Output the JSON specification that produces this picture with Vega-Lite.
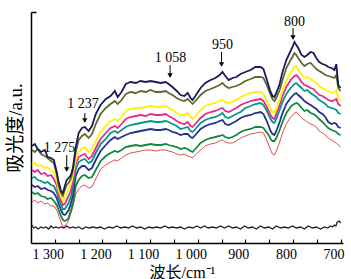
{
"$schema": "https://vega.github.io/schema/vega-lite/v6.json",
"autosize": "none",
"padding": {"left": 31, "top": 12, "right": 8, "bottom": 36},
"width": 312,
"height": 231,
"background": "white",
"config": {"view": {"stroke": null}, "axis": {"grid": false, "domainColor": "#000", "domainWidth": 1.5, "tickColor": "#000", "tickWidth": 1.2, "labelFont": "Liberation Serif", "labelFontSize": 14, "labelColor": "#000", "titleFont": "Liberation Serif, Noto Sans CJK SC", "titleFontWeight": "normal", "titleColor": "#000", "titleFontSize": 16}},
"datasets": {
"N": [{"w":1348,"v":97},{"w":1342,"v":99},{"w":1336,"v":94},{"w":1329,"v":91},{"w":1321,"v":93},{"w":1315,"v":86},{"w":1308,"v":85},{"w":1302,"v":83},{"w":1296,"v":71},{"w":1292,"v":61},{"w":1287,"v":52},{"w":1283,"v":50},{"w":1279,"v":57},{"w":1275,"v":63},{"w":1271,"v":65},{"w":1266,"v":68},{"w":1262,"v":75},{"w":1256,"v":96},{"w":1250,"v":110},{"w":1243,"v":115},{"w":1237,"v":116},{"w":1229,"v":112},{"w":1222,"v":117},{"w":1214,"v":129},{"w":1204,"v":138},{"w":1193,"v":144},{"w":1183,"v":147},{"w":1174,"v":152},{"w":1168,"v":146},{"w":1160,"v":151},{"w":1151,"v":159},{"w":1141,"v":161},{"w":1130,"v":160},{"w":1120,"v":162},{"w":1109,"v":161},{"w":1099,"v":162},{"w":1088,"v":161},{"w":1078,"v":160},{"w":1067,"v":161},{"w":1061,"v":159},{"w":1053,"v":156},{"w":1044,"v":152},{"w":1036,"v":148},{"w":1028,"v":147},{"w":1021,"v":150},{"w":1015,"v":145},{"w":1011,"v":143},{"w":1005,"v":147},{"w":994,"v":155},{"w":984,"v":160},{"w":973,"v":163},{"w":963,"v":165},{"w":954,"v":168},{"w":948,"v":171},{"w":942,"v":167},{"w":935,"v":163},{"w":927,"v":165},{"w":919,"v":166},{"w":910,"v":169},{"w":900,"v":171},{"w":889,"v":173},{"w":879,"v":176},{"w":868,"v":176},{"w":862,"v":174},{"w":856,"v":165},{"w":851,"v":157},{"w":847,"v":151},{"w":843,"v":147},{"w":839,"v":146},{"w":835,"v":150},{"w":828,"v":159},{"w":822,"v":171},{"w":814,"v":183},{"w":805,"v":192},{"w":801,"v":196},{"w":797,"v":201},{"w":793,"v":198},{"w":789,"v":195},{"w":782,"v":188},{"w":776,"v":186},{"w":770,"v":188},{"w":763,"v":191},{"w":757,"v":190},{"w":751,"v":185},{"w":745,"v":181},{"w":738,"v":179},{"w":732,"v":178},{"w":726,"v":176},{"w":719,"v":175},{"w":713,"v":173},{"w":709,"v":179},{"w":705,"v":158},{"w":700,"v":155}],
"O": [{"w":1348,"v":93},{"w":1342,"v":91},{"w":1336,"v":94},{"w":1329,"v":89},{"w":1321,"v":87},{"w":1315,"v":85},{"w":1308,"v":82},{"w":1302,"v":80},{"w":1296,"v":69},{"w":1292,"v":58},{"w":1287,"v":50},{"w":1283,"v":47},{"w":1279,"v":53},{"w":1275,"v":58},{"w":1271,"v":60},{"w":1266,"v":65},{"w":1262,"v":73},{"w":1256,"v":91},{"w":1250,"v":103},{"w":1243,"v":107},{"w":1237,"v":109},{"w":1229,"v":105},{"w":1222,"v":109},{"w":1214,"v":119},{"w":1204,"v":129},{"w":1193,"v":135},{"w":1183,"v":139},{"w":1174,"v":142},{"w":1168,"v":139},{"w":1160,"v":143},{"w":1151,"v":149},{"w":1141,"v":151},{"w":1130,"v":150},{"w":1120,"v":152},{"w":1109,"v":151},{"w":1099,"v":153},{"w":1088,"v":151},{"w":1078,"v":151},{"w":1067,"v":152},{"w":1061,"v":150},{"w":1053,"v":148},{"w":1044,"v":145},{"w":1036,"v":143},{"w":1028,"v":142},{"w":1021,"v":144},{"w":1015,"v":141},{"w":1011,"v":139},{"w":1005,"v":142},{"w":994,"v":148},{"w":984,"v":152},{"w":973,"v":154},{"w":963,"v":156},{"w":954,"v":158},{"w":948,"v":160},{"w":942,"v":157},{"w":935,"v":155},{"w":927,"v":156},{"w":919,"v":157},{"w":910,"v":159},{"w":900,"v":162},{"w":889,"v":164},{"w":879,"v":166},{"w":868,"v":166},{"w":862,"v":165},{"w":856,"v":159},{"w":851,"v":153},{"w":847,"v":148},{"w":843,"v":144},{"w":839,"v":142},{"w":835,"v":145},{"w":828,"v":153},{"w":822,"v":163},{"w":814,"v":175},{"w":805,"v":183},{"w":801,"v":186},{"w":797,"v":190},{"w":793,"v":188},{"w":789,"v":185},{"w":782,"v":180},{"w":776,"v":177},{"w":770,"v":179},{"w":763,"v":180},{"w":757,"v":177},{"w":751,"v":174},{"w":745,"v":172},{"w":738,"v":170},{"w":732,"v":168},{"w":726,"v":167},{"w":719,"v":166},{"w":713,"v":165},{"w":709,"v":168},{"w":705,"v":155},{"w":700,"v":152}],
"Y": [{"w":1348,"v":78},{"w":1342,"v":80},{"w":1336,"v":77},{"w":1329,"v":78},{"w":1321,"v":75},{"w":1315,"v":76},{"w":1308,"v":72},{"w":1302,"v":71},{"w":1296,"v":63},{"w":1292,"v":53},{"w":1287,"v":46},{"w":1283,"v":42},{"w":1279,"v":45},{"w":1275,"v":50},{"w":1271,"v":54},{"w":1266,"v":59},{"w":1262,"v":68},{"w":1256,"v":83},{"w":1250,"v":91},{"w":1243,"v":94},{"w":1237,"v":96},{"w":1229,"v":91},{"w":1222,"v":94},{"w":1214,"v":102},{"w":1204,"v":111},{"w":1193,"v":117},{"w":1183,"v":122},{"w":1174,"v":124},{"w":1168,"v":122},{"w":1160,"v":126},{"w":1151,"v":132},{"w":1141,"v":134},{"w":1130,"v":135},{"w":1120,"v":135},{"w":1109,"v":136},{"w":1099,"v":137},{"w":1088,"v":136},{"w":1078,"v":136},{"w":1067,"v":137},{"w":1061,"v":135},{"w":1053,"v":133},{"w":1044,"v":130},{"w":1036,"v":128},{"w":1028,"v":128},{"w":1021,"v":130},{"w":1015,"v":126},{"w":1011,"v":124},{"w":1005,"v":127},{"w":994,"v":133},{"w":984,"v":137},{"w":973,"v":139},{"w":963,"v":140},{"w":954,"v":142},{"w":948,"v":143},{"w":942,"v":141},{"w":935,"v":140},{"w":927,"v":141},{"w":919,"v":143},{"w":910,"v":146},{"w":900,"v":148},{"w":889,"v":150},{"w":879,"v":151},{"w":868,"v":151},{"w":862,"v":149},{"w":856,"v":143},{"w":851,"v":138},{"w":847,"v":134},{"w":843,"v":131},{"w":839,"v":131},{"w":835,"v":134},{"w":828,"v":143},{"w":822,"v":153},{"w":814,"v":163},{"w":805,"v":170},{"w":801,"v":173},{"w":797,"v":176},{"w":793,"v":177},{"w":789,"v":173},{"w":782,"v":169},{"w":776,"v":165},{"w":770,"v":166},{"w":763,"v":164},{"w":757,"v":162},{"w":751,"v":160},{"w":745,"v":157},{"w":738,"v":155},{"w":732,"v":153},{"w":726,"v":152},{"w":719,"v":150},{"w":713,"v":151},{"w":709,"v":153},{"w":705,"v":145},{"w":700,"v":142}],
"M": [{"w":1348,"v":73},{"w":1342,"v":71},{"w":1336,"v":73},{"w":1329,"v":69},{"w":1321,"v":70},{"w":1315,"v":67},{"w":1308,"v":68},{"w":1302,"v":64},{"w":1296,"v":58},{"w":1292,"v":49},{"w":1287,"v":42},{"w":1283,"v":38},{"w":1279,"v":39},{"w":1275,"v":43},{"w":1271,"v":47},{"w":1266,"v":53},{"w":1262,"v":62},{"w":1256,"v":79},{"w":1250,"v":86},{"w":1243,"v":88},{"w":1237,"v":89},{"w":1229,"v":84},{"w":1222,"v":87},{"w":1214,"v":95},{"w":1204,"v":104},{"w":1193,"v":110},{"w":1183,"v":115},{"w":1174,"v":117},{"w":1168,"v":115},{"w":1160,"v":119},{"w":1151,"v":124},{"w":1141,"v":126},{"w":1130,"v":127},{"w":1120,"v":128},{"w":1109,"v":127},{"w":1099,"v":129},{"w":1088,"v":128},{"w":1078,"v":128},{"w":1067,"v":129},{"w":1061,"v":127},{"w":1053,"v":125},{"w":1044,"v":122},{"w":1036,"v":120},{"w":1028,"v":119},{"w":1021,"v":121},{"w":1015,"v":117},{"w":1011,"v":116},{"w":1005,"v":119},{"w":994,"v":125},{"w":984,"v":129},{"w":973,"v":131},{"w":963,"v":132},{"w":954,"v":134},{"w":948,"v":135},{"w":942,"v":132},{"w":935,"v":131},{"w":927,"v":133},{"w":919,"v":135},{"w":910,"v":138},{"w":900,"v":140},{"w":889,"v":142},{"w":879,"v":143},{"w":868,"v":144},{"w":862,"v":142},{"w":856,"v":137},{"w":851,"v":132},{"w":847,"v":128},{"w":843,"v":125},{"w":839,"v":124},{"w":835,"v":129},{"w":828,"v":138},{"w":822,"v":147},{"w":814,"v":156},{"w":805,"v":163},{"w":801,"v":165},{"w":797,"v":167},{"w":793,"v":168},{"w":789,"v":166},{"w":782,"v":161},{"w":776,"v":158},{"w":770,"v":157},{"w":763,"v":155},{"w":757,"v":154},{"w":751,"v":151},{"w":745,"v":148},{"w":738,"v":147},{"w":732,"v":145},{"w":726,"v":143},{"w":719,"v":142},{"w":713,"v":143},{"w":709,"v":144},{"w":705,"v":139},{"w":700,"v":137}],
"T": [{"w":1348,"v":65},{"w":1342,"v":66},{"w":1336,"v":63},{"w":1329,"v":62},{"w":1321,"v":60},{"w":1315,"v":61},{"w":1308,"v":58},{"w":1302,"v":57},{"w":1296,"v":51},{"w":1292,"v":44},{"w":1287,"v":38},{"w":1283,"v":34},{"w":1279,"v":34},{"w":1275,"v":37},{"w":1271,"v":40},{"w":1266,"v":47},{"w":1262,"v":56},{"w":1256,"v":74},{"w":1250,"v":81},{"w":1243,"v":83},{"w":1237,"v":84},{"w":1229,"v":80},{"w":1222,"v":82},{"w":1214,"v":90},{"w":1204,"v":99},{"w":1193,"v":104},{"w":1183,"v":110},{"w":1174,"v":112},{"w":1168,"v":110},{"w":1160,"v":113},{"w":1151,"v":116},{"w":1141,"v":118},{"w":1130,"v":119},{"w":1120,"v":120},{"w":1109,"v":121},{"w":1099,"v":122},{"w":1088,"v":121},{"w":1078,"v":121},{"w":1067,"v":122},{"w":1061,"v":121},{"w":1053,"v":119},{"w":1044,"v":117},{"w":1036,"v":114},{"w":1028,"v":115},{"w":1021,"v":116},{"w":1015,"v":112},{"w":1011,"v":111},{"w":1005,"v":114},{"w":994,"v":120},{"w":984,"v":123},{"w":973,"v":125},{"w":963,"v":126},{"w":954,"v":128},{"w":948,"v":130},{"w":942,"v":126},{"w":935,"v":125},{"w":927,"v":127},{"w":919,"v":129},{"w":910,"v":131},{"w":900,"v":135},{"w":889,"v":137},{"w":879,"v":139},{"w":868,"v":140},{"w":862,"v":138},{"w":856,"v":133},{"w":851,"v":128},{"w":847,"v":124},{"w":843,"v":121},{"w":839,"v":120},{"w":835,"v":124},{"w":828,"v":133},{"w":822,"v":141},{"w":814,"v":149},{"w":805,"v":155},{"w":801,"v":157},{"w":797,"v":159},{"w":793,"v":160},{"w":789,"v":158},{"w":782,"v":155},{"w":776,"v":152},{"w":770,"v":153},{"w":763,"v":150},{"w":757,"v":148},{"w":751,"v":146},{"w":745,"v":143},{"w":738,"v":141},{"w":732,"v":139},{"w":726,"v":136},{"w":719,"v":135},{"w":713,"v":134},{"w":709,"v":133},{"w":705,"v":130},{"w":700,"v":129}],
"B": [{"w":1348,"v":58},{"w":1342,"v":56},{"w":1336,"v":57},{"w":1329,"v":54},{"w":1321,"v":55},{"w":1315,"v":53},{"w":1308,"v":52},{"w":1302,"v":50},{"w":1296,"v":45},{"w":1292,"v":39},{"w":1287,"v":33},{"w":1283,"v":29},{"w":1279,"v":28},{"w":1275,"v":30},{"w":1271,"v":33},{"w":1266,"v":40},{"w":1262,"v":48},{"w":1256,"v":67},{"w":1250,"v":74},{"w":1243,"v":77},{"w":1237,"v":77},{"w":1229,"v":73},{"w":1222,"v":75},{"w":1214,"v":83},{"w":1204,"v":92},{"w":1193,"v":98},{"w":1183,"v":103},{"w":1174,"v":106},{"w":1168,"v":104},{"w":1160,"v":106},{"w":1151,"v":108},{"w":1141,"v":110},{"w":1130,"v":111},{"w":1120,"v":112},{"w":1109,"v":113},{"w":1099,"v":114},{"w":1088,"v":113},{"w":1078,"v":113},{"w":1067,"v":114},{"w":1061,"v":113},{"w":1053,"v":111},{"w":1044,"v":110},{"w":1036,"v":108},{"w":1028,"v":109},{"w":1021,"v":109},{"w":1015,"v":106},{"w":1011,"v":105},{"w":1005,"v":108},{"w":994,"v":114},{"w":984,"v":117},{"w":973,"v":119},{"w":963,"v":120},{"w":954,"v":122},{"w":948,"v":123},{"w":942,"v":119},{"w":935,"v":118},{"w":927,"v":120},{"w":919,"v":122},{"w":910,"v":125},{"w":900,"v":127},{"w":889,"v":128},{"w":879,"v":130},{"w":868,"v":131},{"w":862,"v":129},{"w":856,"v":123},{"w":851,"v":117},{"w":847,"v":112},{"w":843,"v":109},{"w":839,"v":108},{"w":835,"v":112},{"w":828,"v":121},{"w":822,"v":130},{"w":814,"v":139},{"w":805,"v":145},{"w":801,"v":147},{"w":797,"v":149},{"w":793,"v":150},{"w":789,"v":148},{"w":782,"v":145},{"w":776,"v":142},{"w":770,"v":140},{"w":763,"v":138},{"w":757,"v":136},{"w":751,"v":134},{"w":745,"v":131},{"w":738,"v":129},{"w":732,"v":126},{"w":726,"v":121},{"w":719,"v":119},{"w":713,"v":120},{"w":709,"v":119},{"w":705,"v":116},{"w":700,"v":115}],
"G": [{"w":1348,"v":51},{"w":1342,"v":49},{"w":1336,"v":50},{"w":1329,"v":47},{"w":1321,"v":46},{"w":1315,"v":44},{"w":1308,"v":45},{"w":1302,"v":42},{"w":1296,"v":38},{"w":1292,"v":33},{"w":1287,"v":27},{"w":1283,"v":23},{"w":1279,"v":22},{"w":1275,"v":23},{"w":1271,"v":25},{"w":1266,"v":33},{"w":1262,"v":40},{"w":1256,"v":57},{"w":1250,"v":63},{"w":1243,"v":67},{"w":1237,"v":68},{"w":1229,"v":65},{"w":1222,"v":66},{"w":1214,"v":73},{"w":1204,"v":82},{"w":1193,"v":87},{"w":1183,"v":90},{"w":1174,"v":92},{"w":1168,"v":91},{"w":1160,"v":93},{"w":1151,"v":96},{"w":1141,"v":97},{"w":1130,"v":98},{"w":1120,"v":97},{"w":1109,"v":98},{"w":1099,"v":99},{"w":1088,"v":98},{"w":1078,"v":98},{"w":1067,"v":99},{"w":1061,"v":98},{"w":1053,"v":97},{"w":1044,"v":96},{"w":1036,"v":94},{"w":1028,"v":95},{"w":1021,"v":94},{"w":1015,"v":92},{"w":1011,"v":91},{"w":1005,"v":94},{"w":994,"v":100},{"w":984,"v":103},{"w":973,"v":105},{"w":963,"v":106},{"w":954,"v":107},{"w":948,"v":108},{"w":942,"v":106},{"w":935,"v":105},{"w":927,"v":106},{"w":919,"v":108},{"w":910,"v":111},{"w":900,"v":113},{"w":889,"v":114},{"w":879,"v":116},{"w":868,"v":116},{"w":862,"v":115},{"w":856,"v":111},{"w":851,"v":108},{"w":847,"v":104},{"w":843,"v":102},{"w":839,"v":102},{"w":835,"v":105},{"w":828,"v":113},{"w":822,"v":121},{"w":814,"v":130},{"w":805,"v":136},{"w":801,"v":138},{"w":797,"v":139},{"w":793,"v":140},{"w":789,"v":139},{"w":782,"v":135},{"w":776,"v":132},{"w":770,"v":133},{"w":763,"v":130},{"w":757,"v":129},{"w":751,"v":127},{"w":745,"v":124},{"w":738,"v":121},{"w":732,"v":118},{"w":726,"v":115},{"w":719,"v":113},{"w":713,"v":112},{"w":709,"v":111},{"w":705,"v":109},{"w":700,"v":108}],
"R": [{"w":1348,"v":41},{"w":1342,"v":43},{"w":1336,"v":40},{"w":1329,"v":42},{"w":1321,"v":39},{"w":1315,"v":40},{"w":1308,"v":37},{"w":1302,"v":37},{"w":1296,"v":33},{"w":1292,"v":28},{"w":1287,"v":21},{"w":1283,"v":16},{"w":1279,"v":17},{"w":1275,"v":19},{"w":1271,"v":23},{"w":1266,"v":30},{"w":1262,"v":36},{"w":1256,"v":49},{"w":1250,"v":54},{"w":1243,"v":57},{"w":1237,"v":58},{"w":1229,"v":55},{"w":1222,"v":56},{"w":1214,"v":64},{"w":1204,"v":74},{"w":1193,"v":78},{"w":1183,"v":81},{"w":1174,"v":83},{"w":1168,"v":82},{"w":1160,"v":85},{"w":1151,"v":88},{"w":1141,"v":90},{"w":1130,"v":91},{"w":1120,"v":92},{"w":1109,"v":93},{"w":1099,"v":93},{"w":1088,"v":92},{"w":1078,"v":93},{"w":1067,"v":93},{"w":1061,"v":92},{"w":1053,"v":91},{"w":1044,"v":89},{"w":1036,"v":88},{"w":1028,"v":89},{"w":1021,"v":87},{"w":1015,"v":86},{"w":1011,"v":85},{"w":1005,"v":88},{"w":994,"v":93},{"w":984,"v":97},{"w":973,"v":99},{"w":963,"v":100},{"w":954,"v":102},{"w":948,"v":103},{"w":942,"v":101},{"w":935,"v":100},{"w":927,"v":100},{"w":919,"v":102},{"w":910,"v":105},{"w":900,"v":107},{"w":889,"v":109},{"w":879,"v":110},{"w":868,"v":111},{"w":862,"v":110},{"w":856,"v":104},{"w":851,"v":98},{"w":847,"v":93},{"w":843,"v":89},{"w":839,"v":88},{"w":835,"v":92},{"w":828,"v":101},{"w":822,"v":110},{"w":814,"v":119},{"w":805,"v":126},{"w":801,"v":128},{"w":797,"v":130},{"w":793,"v":131},{"w":789,"v":129},{"w":782,"v":125},{"w":776,"v":123},{"w":770,"v":121},{"w":763,"v":119},{"w":757,"v":118},{"w":751,"v":116},{"w":745,"v":112},{"w":738,"v":110},{"w":732,"v":108},{"w":726,"v":105},{"w":719,"v":103},{"w":713,"v":101},{"w":709,"v":100},{"w":705,"v":98},{"w":700,"v":96}],
"K": [{"w":1348,"v":18},{"w":1344,"v":15},{"w":1340,"v":16},{"w":1335,"v":14},{"w":1329,"v":16},{"w":1324,"v":15},{"w":1319,"v":16},{"w":1313,"v":14},{"w":1308,"v":17},{"w":1303,"v":15},{"w":1298,"v":16},{"w":1292,"v":15},{"w":1287,"v":16},{"w":1281,"v":15},{"w":1275,"v":17},{"w":1268,"v":15},{"w":1262,"v":16},{"w":1256,"v":15},{"w":1250,"v":16},{"w":1242,"v":14},{"w":1235,"v":16},{"w":1228,"v":15},{"w":1220,"v":16},{"w":1212,"v":15},{"w":1204,"v":16},{"w":1196,"v":14},{"w":1187,"v":16},{"w":1178,"v":15},{"w":1170,"v":17},{"w":1162,"v":15},{"w":1153,"v":16},{"w":1145,"v":15},{"w":1137,"v":17},{"w":1128,"v":15},{"w":1120,"v":16},{"w":1111,"v":14},{"w":1103,"v":16},{"w":1095,"v":15},{"w":1086,"v":16},{"w":1078,"v":15},{"w":1069,"v":17},{"w":1061,"v":15},{"w":1053,"v":16},{"w":1044,"v":15},{"w":1036,"v":16},{"w":1028,"v":14},{"w":1019,"v":16},{"w":1010,"v":15},{"w":1002,"v":17},{"w":994,"v":15},{"w":986,"v":17},{"w":978,"v":15},{"w":969,"v":16},{"w":961,"v":15},{"w":952,"v":17},{"w":944,"v":15},{"w":935,"v":17},{"w":927,"v":15},{"w":919,"v":16},{"w":910,"v":14},{"w":902,"v":17},{"w":894,"v":15},{"w":885,"v":16},{"w":877,"v":14},{"w":868,"v":17},{"w":860,"v":15},{"w":851,"v":16},{"w":843,"v":14},{"w":835,"v":17},{"w":826,"v":15},{"w":818,"v":16},{"w":810,"v":15},{"w":801,"v":17},{"w":793,"v":15},{"w":784,"v":16},{"w":776,"v":14},{"w":768,"v":17},{"w":759,"v":15},{"w":751,"v":16},{"w":742,"v":14},{"w":734,"v":16},{"w":727,"v":15},{"w":721,"v":17},{"w":717,"v":16},{"w":713,"v":18},{"w":710,"v":17},{"w":707,"v":21},{"w":703,"v":22},{"w":700,"v":20}],
"labels": [{"w":1290,"v":95,"t":"1 275"},{"w":1241,"v":139,"t":"1 237"},{"w":1057,"v":185,"t":"1 058"},{"w":948,"v":198,"t":"950"},{"w":797,"v":221,"t":"800"}],
"arrows": [{"w":1275,"v":88,"v2":72},{"w":1237,"v":130,"v2":121},{"w":1058,"v":178,"v2":166},{"w":950,"v":191,"v2":177},{"w":800,"v":215,"v2":204}],
"tips": [{"w":1275,"v":71},{"w":1237,"v":120},{"w":1058,"v":165},{"w":950,"v":176},{"w":800,"v":203}]
},
"encoding": {
"x": {"field": "w", "type": "quantitative", "scale": {"domain": [1350, 695], "nice": false, "zero": false}, "axis": {"title": "波长/cm⁻¹", "values": [1300,1250,1200,1150,1100,1050,1000,950,900,850,800,750,700], "labelExpr": "datum.value % 100 != 0 ? '' : (datum.value >= 1000 ? '1 ' + slice(toString(datum.value), 1) : toString(datum.value))", "tickSize": -4, "labelPadding": 8, "labelAlign": "center", "labelOffset": -7, "labelFlush": false, "labelOverlap": false, "titleX": 151, "titleY": 21, "titleBaseline": "top", "titleAnchor": null}},
"y": {"field": "v", "type": "quantitative", "scale": {"domain": [0, 231], "nice": false, "zero": false}, "axis": {"title": "吸光度/a.u.", "titleFontSize": 19, "values": [231], "labels": false, "tickSize": -5, "tickWidth": 1.5, "titleX": -16, "titleY": 115.5, "titleAlign": "center", "titleBaseline": "middle", "titleAngle": -90}}
},
"layer": [
{"data": {"name": "K"}, "mark": {"type": "line", "color": "#222222", "strokeWidth": 1.3}},
{"data": {"name": "R"}, "mark": {"type": "line", "color": "#e0504f", "strokeWidth": 1.0}},
{"data": {"name": "G"}, "mark": {"type": "line", "color": "#12893a", "strokeWidth": 1.8}},
{"data": {"name": "B"}, "mark": {"type": "line", "color": "#25318f", "strokeWidth": 1.8}},
{"data": {"name": "T"}, "mark": {"type": "line", "color": "#00998a", "strokeWidth": 1.8}},
{"data": {"name": "M"}, "mark": {"type": "line", "color": "#e8298c", "strokeWidth": 1.8}},
{"data": {"name": "Y"}, "mark": {"type": "line", "color": "#fff200", "strokeWidth": 1.8}},
{"data": {"name": "O"}, "mark": {"type": "line", "color": "#5d6a2e", "strokeWidth": 1.8}},
{"data": {"name": "N"}, "mark": {"type": "line", "color": "#1a1a5a", "strokeWidth": 1.8}},
{"data": {"name": "arrows"}, "mark": {"type": "rule", "color": "#000", "strokeWidth": 1}, "encoding": {"y2": {"field": "v2"}}},
{"data": {"name": "tips"}, "mark": {"type": "point", "shape": "triangle-down", "filled": true, "size": 28, "color": "#000", "opacity": 1, "yOffset": -2.5}},
{"data": {"name": "labels"}, "mark": {"type": "text", "font": "Liberation Serif", "fontSize": 14, "color": "#000", "baseline": "middle", "align": "center"}, "encoding": {"text": {"field": "t"}}}
]
}
